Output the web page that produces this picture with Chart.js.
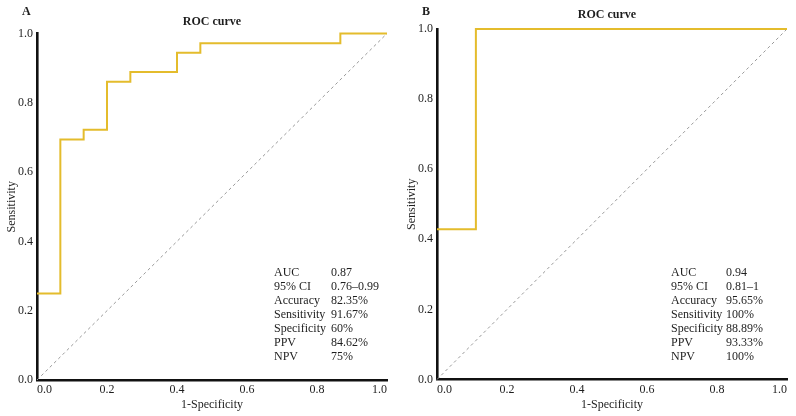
<!DOCTYPE html>
<html><head><meta charset="utf-8">
<script src="https://cdn.jsdelivr.net/npm/chart.js@4.4.1/dist/chart.umd.min.js"></script>
<style>
html,body{margin:0;padding:0;background:#fff;}
#wrap{position:relative;width:796px;height:416px;background:#fff;}
.pane{position:absolute;top:0;width:398px;height:416px;}
</style></head><body>
<div id="wrap">
<div class="pane" style="left:0"><canvas id="cA" width="398" height="416"></canvas></div>
<div class="pane" style="left:398px"><canvas id="cB" width="398" height="416"></canvas></div>
</div>
<script>
// ROC curve A: corner points (1-Specificity, Sensitivity)
const fprA = [0, 0.0667, 0.1333, 0.2000, 0.2667, 0.4000, 0.4667, 0.8667, 1.0];
const tprA = [0.25, 0.6944, 0.7222, 0.8611, 0.8889, 0.9444, 0.9722, 1.0, 1.0];
// ROC curve B
const fprB = [0, 0.1111, 1.0];
const tprB = [0.4286, 1.0, 1.0];
// Reference diagonal
const refX = [0, 1];
const refY = [0, 1];
// Axis ticks
const axisTicks = [0.0, 0.2, 0.4, 0.6, 0.8, 1.0];
// Statistics tables
const statLabels = ['AUC', '95% CI', 'Accuracy', 'Sensitivity', 'Specificity', 'PPV', 'NPV'];
const statsA = ['0.87', '0.76\u20130.99', '82.35%', '91.67%', '60%', '84.62%', '75%'];
const statsB = ['0.94', '0.81\u20131', '95.65%', '100%', '88.89%', '93.33%', '100%'];
const panelLetters = ['A', 'B'];
const chartTitle = 'ROC curve';

const FONT = '"Liberation Serif", "Times New Roman", serif';
const TXT = '#1e1e1e';
const YELLOW = '#E4BC2C';

const textPlugin = {
  id: 'panelText',
  afterDraw(chart, args, o) {
    const ctx = chart.ctx;
    ctx.save();
    ctx.fillStyle = TXT;
    ctx.textBaseline = 'middle';
    ctx.font = 'bold 12px ' + FONT;
    ctx.textAlign = 'left';
    ctx.fillText(o.letter, o.letterX, o.letterY);
    ctx.textAlign = 'center';
    ctx.fillText(chartTitle, o.titleX, o.titleY);
    ctx.font = '12px ' + FONT;
    ctx.textAlign = 'left';
    for (let i = 0; i < statLabels.length; i++) {
      const y = o.statY + i * o.statStep;
      ctx.fillText(statLabels[i], o.labX, y);
      ctx.fillText(o.values[i], o.valX, y);
    }
    ctx.restore();
  }
};

function zip(xs, ys) { return xs.map((x, i) => ({x: x, y: ys[i]})); }

function makeChart(id, fpr, tpr, cfg) {
  const axisCommon = {
    type: 'linear', min: 0, max: 1,
    grid: {display: false, drawTicks: false},
    border: {display: true, color: '#111', width: 2.6},
    afterBuildTicks: s => { s.ticks = axisTicks.map(v => ({value: v})); },
  };
  return new Chart(document.getElementById(id), {
    type: 'scatter',
    data: {
      datasets: [
        {data: zip(refX, refY), showLine: true, borderColor: '#999999', borderWidth: 1,
         borderDash: [3, 3], pointRadius: 0, clip: false, order: 2},
        {data: zip(fpr, tpr), showLine: true, stepped: 'before', borderColor: YELLOW,
         borderWidth: 2, pointRadius: 0, clip: false, order: 1}
      ]
    },
    options: {
      responsive: false, animation: false, events: [],
      layout: {padding: cfg.padding},
      plugins: {legend: {display: false}, tooltip: {enabled: false}, panelText: cfg.text},
      scales: {
        x: Object.assign({}, axisCommon, {
          position: 'bottom',
          ticks: {font: {family: FONT, size: 12}, color: TXT, padding: 3, maxRotation: 0,
                  align: 'inner', autoSkip: false, callback: v => Number(v).toFixed(1)},
          title: {display: true, text: '1-Specificity', font: {family: FONT, size: 12},
                  color: TXT, padding: {top: 0, bottom: 4}},
          afterFit: s => { s.height = cfg.xh; }
        }),
        y: Object.assign({}, axisCommon, {
          position: 'left',
          ticks: {font: {family: FONT, size: 12}, color: TXT, padding: 4,
                  autoSkip: false, callback: v => Number(v).toFixed(1)},
          title: {display: true, text: 'Sensitivity', font: {family: FONT, size: 12},
                  color: TXT, padding: {top: cfg.ytp, bottom: 0}},
          afterFit: s => { s.width = cfg.yw; }
        })
      }
    },
    plugins: [textPlugin]
  });
}

makeChart('cA', fprA, tprA, {
  padding: {left: 0, right: 11, top: 33.5, bottom: 0}, xh: 36, yw: 37, ytp: 5,
  text: {letter: panelLetters[0], letterX: 22, letterY: 12, titleX: 212, titleY: 22,
         labX: 274, valX: 331, statY: 273, statStep: 14, values: statsA}
});
makeChart('cB', fprB, tprB, {
  padding: {left: 0, right: 9, top: 29, bottom: 0}, xh: 36.5, yw: 39, ytp: 6.5,
  text: {letter: panelLetters[1], letterX: 24, letterY: 12, titleX: 209, titleY: 15,
         labX: 273, valX: 328, statY: 273, statStep: 14, values: statsB}
});
</script>
</body></html>
